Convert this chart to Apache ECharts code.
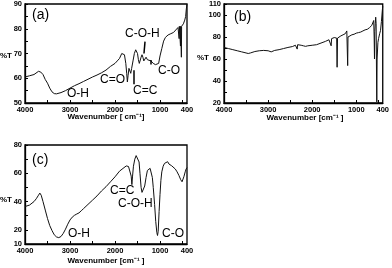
<!DOCTYPE html>
<html>
<head>
<meta charset="utf-8">
<script src="https://cdn.jsdelivr.net/npm/echarts@6/dist/echarts.min.js"></script>
<style>
html,body{margin:0;padding:0;background:#fff;}
#chart{width:392px;height:268px;}
</style>
</head>
<body>
<div id="chart"></div>
<script>
// Panel (a)
const aWn = [4000,3900,3800,3700,3650,3600,3550,3500,3450,3400,3350,3300,3200,3100,3000,2900,2800,2700,2600,2500,2400,2300,2200,2100,2000,1950,1900,1850,1820,1790,1760,1740,1725,1710,1690,1670,1650,1630,1600,1570,1540,1520,1500,1480,1460,1440,1420,1400,1380,1360,1340,1310,1280,1250,1200,1150,1100,1060,1030,1000,960,920,880,820,760,700,650,600,580,575,570,550,545,540,530,525,520,500,480,450,430,415,400];
const aT  = [60.5,61,61.5,62.8,62.5,61.5,59.5,58,56,54.5,53.8,53.7,54.2,55,56,57,57.8,58.7,59.6,60.5,61.3,62.2,63.3,64.8,66,67,68,70,70.8,69.5,66,62,58.5,61,64,63.5,62,64,67,70,71.5,71.5,70,67.5,66,66.5,68.5,69.5,68.5,67,67.5,68.5,67.5,67,67,66,65.5,65,66,69,72,75,76.5,77.5,78,78.5,79.5,80.5,81,76,81,81,73,81,80.5,68.5,81,81.5,82,83.5,85,88,90];
// Panel (b)
const bWn = [4000,3900,3800,3700,3600,3500,3450,3400,3300,3200,3100,3000,2930,2850,2750,2650,2550,2450,2380,2350,2340,2330,2300,2250,2200,2150,2100,2000,1900,1800,1700,1620,1580,1570,1560,1500,1460,1445,1435,1425,1400,1350,1300,1250,1215,1200,1195,1188,1150,1100,1050,1000,950,900,850,800,750,700,650,620,605,595,587,580,570,560,550,540,535,528,510,495,470,450,430,410,400];
const bT  = [70.5,69.5,68.5,67.5,66.5,65.5,65,65.5,66.8,67.5,67.8,67.5,66.5,67.8,68.5,69.5,70.5,71.3,72.5,73,69,73,73.2,72.5,72,71.5,72,72.5,73,74.5,76,77.5,78,72,78.5,79.5,80.5,79,52.5,79,80.5,81,82,83,85.5,84,54,80,81,82,82.5,83.5,84,84.5,85.5,86.5,87,88.5,90.5,91.5,95,80,60,85,92,98,92,40,21,60,75,78.5,83,86,94,104,108];
// Panel (c)
const cWn = [4000,3900,3800,3750,3700,3670,3640,3600,3550,3500,3450,3400,3350,3300,3250,3200,3150,3100,3050,3000,2950,2900,2850,2800,2750,2700,2600,2500,2400,2300,2200,2100,2000,1900,1800,1750,1720,1700,1680,1660,1640,1625,1610,1590,1560,1530,1510,1490,1465,1445,1420,1400,1380,1360,1340,1310,1280,1260,1240,1220,1195,1170,1150,1120,1095,1070,1055,1040,1020,1000,980,960,930,900,860,830,800,770,740,700,660,620,580,540,510,490,470,440,420,400];
const cT  = [36.5,37.5,40,42,44.5,46,44.5,40,34,28,23,19.5,16.5,15,14.5,15.3,17.5,20.5,24,27,29,30.3,31.2,32,33.5,35,38,41,44,47.5,50.5,54,57.5,61.5,64,65.2,65.5,64.8,65.8,64,58,52,58,65,70,72.5,73,71.5,68,60,50,46.5,46,47,51,57,62,63.3,62.5,63.5,62.5,57,50,38,26,18,16,19,33,45,55,61,65,67,68,68.2,66.5,66,65.3,64,63,61,58.5,55.5,54,55,57.5,61,63,64];

// Tick values
const xLabels = [4000,3000,2000,1000,400];
const xTicks = [4000,3500,3000,2500,2000,1500,1000,500];
const aYLabels = [50,60,70,80,90];
const aYTicks = [50,55,60,65,70,75,80,85,90];
const bYLabels = [20,40,60,80,100,110];
const bYTicks = [20,30,40,50,60,70,80,90,100,110];
const cYLabels = [10,20,40,60,80];
const cYTicks = [10,20,30,40,50,60,70,80];

const FONT = '"Liberation Sans", Arial, sans-serif';
const zip = (x, y) => x.map((v, i) => [v, y[i]]);
const plain = v => String(v);

function xAxis(i) {
  return {
    gridIndex: i, type: 'value', min: 400, max: 4000, inverse: true,
    axisLine: {show: true, lineStyle: {color: '#000', width: 1.3}},
    axisTick: {show: true, inside: true, length: 3, customValues: xTicks, lineStyle: {color: '#000', width: 1}},
    axisLabel: {customValues: xLabels, formatter: plain, fontSize: 7.5, fontWeight: 'bold', color: '#000', margin: 3, fontFamily: FONT},
    splitLine: {show: false}
  };
}
function yAxis(i, min, max, labels, ticks) {
  return {
    gridIndex: i, type: 'value', min: min, max: max,
    axisLine: {show: true, lineStyle: {color: '#000', width: 1.3}},
    axisTick: {show: true, inside: true, length: 3, customValues: ticks, lineStyle: {color: '#000', width: 1}},
    axisLabel: {customValues: labels, formatter: plain, fontSize: 7.5, fontWeight: 'bold', color: '#000', margin: 3, fontFamily: FONT},
    splitLine: {show: false}
  };
}
function txt(x, y, s, size, bold) {
  return {type: 'text', x: x, y: y, silent: true,
    style: {text: s, fontSize: size, fontFamily: FONT, fontWeight: bold ? 'bold' : 'normal', fill: '#000', verticalAlign: 'middle', align: 'left'}};
}
function ctxt(x, y, s) {
  return {type: 'text', x: x, y: y, silent: true,
    style: {text: s, fontSize: 8, fontFamily: FONT, fontWeight: 'bold', fill: '#000', verticalAlign: 'middle', align: 'center'}};
}
const lineStyle = {color: '#111', width: 1};
const mlStyle = {symbol: ['none', 'none'], silent: true, label: {show: false}, lineStyle: {color: '#000', width: 1.5, type: 'solid'}, animation: false};

const chart = echarts.init(document.getElementById('chart'), null, {renderer: 'canvas'});
chart.setOption({
  animation: false,
  backgroundColor: '#fff',
  grid: [
    {left: 25, top: 3, width: 162, height: 100, show: true, borderColor: '#000', borderWidth: 1.3},
    {left: 224, top: 3, width: 160, height: 100, show: true, borderColor: '#000', borderWidth: 1.3},
    {left: 25, top: 145, width: 162, height: 99, show: true, borderColor: '#000', borderWidth: 1.3}
  ],
  xAxis: [xAxis(0), xAxis(1), xAxis(2)],
  yAxis: [yAxis(0, 50, 90, aYLabels, aYTicks), yAxis(1, 20, 110, bYLabels, bYTicks), yAxis(2, 10, 80, cYLabels, cYTicks)],
  series: [
    {type: 'line', xAxisIndex: 0, yAxisIndex: 0, data: zip(aWn, aT), showSymbol: false, lineStyle: lineStyle,
      markLine: Object.assign({data: [
        [{coord: [1333, 74.8]}, {coord: [1356, 70]}],
        [{coord: [1589, 63.2]}, {coord: [1589, 57.6]}],
        [{coord: [1200, 67.4]}, {coord: [1200, 65.6]}]
      ]}, mlStyle)},
    {type: 'line', xAxisIndex: 1, yAxisIndex: 1, data: zip(bWn, bT), showSymbol: false, lineStyle: lineStyle},
    {type: 'line', xAxisIndex: 2, yAxisIndex: 2, data: zip(cWn, cT), showSymbol: false, lineStyle: lineStyle}
  ],
  graphic: [
    txt(32, 15, '(a)', 14),
    txt(234, 17, '(b)', 14),
    txt(32, 160, '(c)', 14),
    txt(0, 56, '%T', 8, true),
    txt(197, 58, '%T', 8, true),
    txt(0, 200, '%T', 8, true),
    ctxt(106, 117, 'Wavenumber [ cm⁻¹]'),
    ctxt(305, 118, 'Wavenumber [cm⁻¹ ]'),
    ctxt(106, 261, 'Wavenumber [cm⁻¹ ]'),
    txt(125, 34, 'C-O-H', 12),
    txt(100, 80, 'C=O', 12),
    txt(133, 91, 'C=C', 12),
    txt(158, 71, 'C-O', 12),
    txt(67, 94, 'O-H', 12),
    txt(110, 191, 'C=C', 12),
    txt(118, 204, 'C-O-H', 12),
    txt(68, 234, 'O-H', 12),
    txt(162, 234, 'C-O', 12)
  ]
});
</script>
</body>
</html>
